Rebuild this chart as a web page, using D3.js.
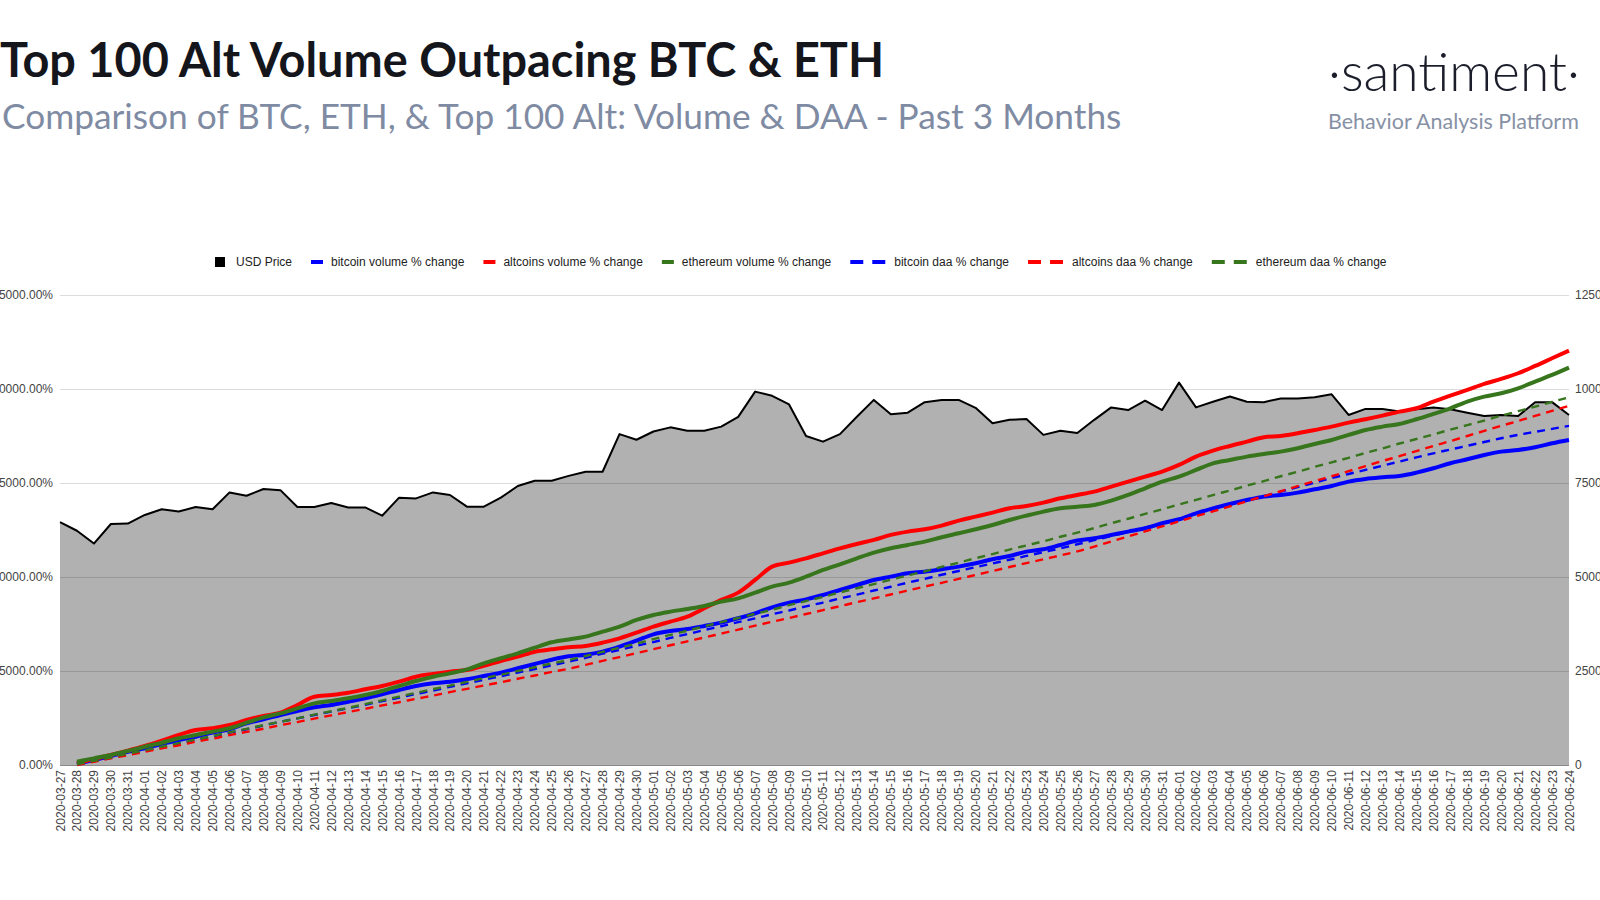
<!DOCTYPE html>
<html>
<head>
<meta charset="utf-8">
<script src="https://cdn.jsdelivr.net/npm/d3@7"></script>
<style>
  html, body { margin: 0; padding: 0; background: #ffffff; overflow: hidden; }
  svg { display: block; }
</style>
</head>
<body>
<svg id="chart" width="1600" height="900"></svg>
<script>
// ---------------- DATA ----------------
const dates = [
"2020-03-27","2020-03-28","2020-03-29","2020-03-30","2020-03-31","2020-04-01","2020-04-02","2020-04-03","2020-04-04","2020-04-05",
"2020-04-06","2020-04-07","2020-04-08","2020-04-09","2020-04-10","2020-04-11","2020-04-12","2020-04-13","2020-04-14","2020-04-15",
"2020-04-16","2020-04-17","2020-04-18","2020-04-19","2020-04-20","2020-04-21","2020-04-22","2020-04-23","2020-04-24","2020-04-25",
"2020-04-26","2020-04-27","2020-04-28","2020-04-29","2020-04-30","2020-05-01","2020-05-02","2020-05-03","2020-05-04","2020-05-05",
"2020-05-06","2020-05-07","2020-05-08","2020-05-09","2020-05-10","2020-05-11","2020-05-12","2020-05-13","2020-05-14","2020-05-15",
"2020-05-16","2020-05-17","2020-05-18","2020-05-19","2020-05-20","2020-05-21","2020-05-22","2020-05-23","2020-05-24","2020-05-25",
"2020-05-26","2020-05-27","2020-05-28","2020-05-29","2020-05-30","2020-05-31","2020-06-01","2020-06-02","2020-06-03","2020-06-04",
"2020-06-05","2020-06-06","2020-06-07","2020-06-08","2020-06-09","2020-06-10","2020-06-11","2020-06-12","2020-06-13","2020-06-14",
"2020-06-15","2020-06-16","2020-06-17","2020-06-18","2020-06-19","2020-06-20","2020-06-21","2020-06-22","2020-06-23","2020-06-24"
];

// USD Price (right axis)
const usdPrice = [
6460,6230,5890,6410,6420,6650,6800,6740,6860,6800,
7250,7160,7340,7310,6860,6860,6970,6850,6850,6630,
7110,7090,7250,7180,6870,6870,7110,7420,7560,7560,
7690,7800,7800,8800,8650,8870,8980,8890,8890,9000,
9260,9930,9820,9590,8750,8600,8800,9260,9710,9330,
9370,9650,9710,9710,9500,9090,9180,9200,8780,8890,
8830,9180,9510,9440,9690,9440,10170,9510,9660,9800,
9660,9650,9750,9750,9780,9860,9310,9470,9470,9400,
9460,9510,9460,9370,9280,9310,9280,9650,9650,9310
];

// bitcoin volume % change
const btcVolume = [
null,300,1330,2400,3540,4430,5590,6650,7530,8600,
9490,11090,12150,13300,14360,15350,15960,16840,17740,18800,
19950,21010,21730,22160,22790,23670,24550,25720,26870,28000,
28900,29300,30150,31480,33070,34760,35640,36180,36970,37860,
39020,40350,41940,43180,44060,45220,46550,47880,49210,50090,
50990,51420,52060,52760,53650,54710,55590,56740,57380,58520,
59700,60290,61180,62070,62950,64280,65350,66940,68270,69430,
70490,71380,71820,72440,73330,74210,75370,76080,76520,76870,
77760,78910,80240,81310,82460,83350,83790,84500,85570,86450
];

// altcoins volume % change
const altVolume = [
null,450,1600,2660,3800,5050,6470,7980,9310,9760,
10640,11970,13040,13920,15960,18170,18620,19230,20140,21010,
22160,23490,24210,24820,25270,26410,27660,28810,30140,30760,
31300,31650,32540,33690,35200,36800,38130,39460,41670,43900,
45840,49220,52760,53820,54970,56300,57630,58790,59860,61190,
62070,62690,63670,65000,66060,67130,68270,68900,69780,70930,
71800,72710,74040,75370,76700,78030,79800,82020,83610,84850,
86000,87160,87510,88220,89110,90000,91060,91950,92920,93980,
94870,96650,98240,99750,101350,102680,104190,106130,108170,110220
];

// ethereum volume % change
const ethVolume = [
null,890,1770,2660,3720,4870,5930,7100,7980,8870,
9760,11260,12680,13740,15070,16400,17020,17740,18620,19680,
21010,22340,23490,24380,25450,27050,28380,29710,31210,32630,
33400,34130,35460,36800,38570,39900,40790,41500,42290,43450,
44330,45840,47430,48500,50090,51870,53380,54970,56480,57630,
58520,59410,60560,61620,62690,63840,65170,66320,67390,68270,
68700,69160,70310,71820,73590,75370,76700,78470,80240,81130,
82020,82730,83350,84230,85390,86450,87780,89110,90000,90710,
91950,93370,94870,96650,97980,98860,100190,101970,103740,105700
];

// bitcoin daa % change
const btcDaa = [
null,100,1000,1900,2900,3800,4800,5700,6700,7600,
8600,9500,10500,11500,12400,13300,14200,15100,16000,17000,
17900,18900,19800,20800,21700,22700,23600,24600,25500,26500,
27500,28500,29600,30600,31700,32700,33800,34800,35900,36900,
38000,39000,40100,41100,42200,43200,44300,45300,46400,47400,
48500,49500,50600,51600,52600,53600,54600,55600,56600,57600,
58700,59800,60900,62000,63100,64300,65500,66700,67900,69100,
70300,71500,72700,73900,75100,76300,77400,78500,79600,80700,
81800,82900,83900,84900,85900,86900,87800,88600,89400,90200
];

// altcoins daa % change
const altDaa = [
null,0,850,1800,2600,3500,4450,5250,6200,7000,
7950,8800,9650,10600,11400,12350,13200,14100,14950,15850,
16700,17600,18450,19400,20250,21150,22000,22950,23800,24750,
25600,26650,27700,28700,29750,30800,31850,32900,33900,34950,
36000,37050,38100,39100,40150,41200,42250,43300,44300,45350,
46400,47450,48450,49500,50550,51600,52650,53700,54700,55750,
56800,58100,59450,60800,62150,63450,64800,66150,67450,68800,
70150,71500,72800,74150,75500,76800,78150,79500,80850,82150,
83500,84850,86150,87500,88850,90200,91500,92850,94200,95500
];

// ethereum daa % change
const ethDaa = [
null,200,1100,2000,3000,3900,4900,5800,6800,7700,
8700,9600,10600,11500,12400,13400,14300,15200,16200,17200,
18200,19200,20200,21100,22100,23100,24000,25000,26000,27000,
27900,29000,30100,31200,32300,33500,34600,35700,36900,38000,
39100,40200,41300,42500,43600,44700,45900,47000,48100,49300,
50400,51500,52700,53800,55000,56100,57300,58400,59500,60700,
61800,63000,64300,65500,66800,68000,69300,70500,71800,73000,
74300,75500,76800,78000,79300,80500,81700,83000,84200,85500,
86700,87900,89200,90400,91600,92900,94100,95300,96600,97800
];

const leftTicks = [0, 25000, 50000, 75000, 100000, 125000];
const rightTicks = [0, 2500, 5000, 7500, 10000, 12500];

const titleText = "Top 100 Alt Volume Outpacing BTC & ETH";
const subtitleText = "Comparison of BTC, ETH, & Top 100 Alt: Volume & DAA - Past 3 Months";
const logoText = "\u00B7santiment\u00B7";
const logoSubText = "Behavior Analysis Platform";

const seriesNames = ["USD Price", "bitcoin volume % change", "altcoins volume % change", "ethereum volume % change",
                     "bitcoin daa % change", "altcoins daa % change", "ethereum daa % change"];

// ---------------- LAYOUT / STYLE ----------------
const svg = d3.select("#chart");
const plot = { left: 60, right: 1569, top: 295, bottom: 765 };
const FONT = "'Liberation Sans', Arial, sans-serif";
const BLUE = "#0000ff", RED = "#ff0000", GREEN = "#38761d";

const lineSeries = [
  { name: seriesNames[1], values: btcVolume, color: BLUE, dashed: false },
  { name: seriesNames[2], values: altVolume, color: RED, dashed: false },
  { name: seriesNames[3], values: ethVolume, color: GREEN, dashed: false },
  { name: seriesNames[4], values: btcDaa, color: BLUE, dashed: true },
  { name: seriesNames[5], values: altDaa, color: RED, dashed: true },
  { name: seriesNames[6], values: ethDaa, color: GREEN, dashed: true }
];

const x = d3.scalePoint().domain(dates).range([plot.left, plot.right]).padding(0);
const yL = d3.scaleLinear().domain([0, 125000]).range([plot.bottom, plot.top]);
const yR = d3.scaleLinear().domain([0, 12500]).range([plot.bottom, plot.top]);

// ---------------- HEADER ----------------
function fitWidth(sel, target) {
  const w = sel.node().getComputedTextLength();
  const fs = parseFloat(sel.attr("font-size"));
  sel.attr("font-size", (fs * target / w).toFixed(2));
}

const title = svg.append("text")
  .attr("x", 0).attr("y", 77)
  .attr("font-family", "Lato, 'Open Sans', sans-serif")
  .attr("font-weight", 700).attr("font-size", 42)
  .attr("fill", "#14161c").text(titleText);
fitWidth(title, 884);

const subtitle = svg.append("text")
  .attr("x", 2).attr("y", 129)
  .attr("font-family", "Lato, 'Open Sans', sans-serif")
  .attr("font-weight", 400).attr("font-size", 32)
  .attr("fill", "#7f8ba3").text(subtitleText);
fitWidth(subtitle, 1120);

const logo = svg.append("text")
  .attr("x", 1328).attr("y", 91)
  .attr("font-family", "Lato, 'Open Sans', sans-serif")
  .attr("font-weight", 300).attr("font-size", 52)
  .attr("fill", "#1b1d2b").text(logoText);
fitWidth(logo, 252);

const logoSub = svg.append("text")
  .attr("x", 1328).attr("y", 129)
  .attr("font-family", "Lato, 'Open Sans', sans-serif")
  .attr("font-weight", 400).attr("font-size", 19)
  .attr("fill", "#8791a5").text(logoSubText);
fitWidth(logoSub, 251);

// ---------------- GRID ----------------
const g = svg.append("g");
g.selectAll("line.grid").data(leftTicks.slice(1)).enter().append("line")
  .attr("class", "grid")
  .attr("x1", plot.left).attr("x2", plot.right)
  .attr("y1", d => Math.round(yL(d)) + 0.5).attr("y2", d => Math.round(yL(d)) + 0.5)
  .attr("stroke", "#dcdcdc").attr("stroke-width", 1);

// ---------------- PRICE AREA ----------------
const priceData = dates.map((d, i) => ({ d, v: usdPrice[i] }));
const area = d3.area().x(p => x(p.d)).y0(yR(0)).y1(p => yR(p.v));
g.append("path").datum(priceData).attr("d", area)
  .attr("fill", "#000000").attr("fill-opacity", 0.305);
const priceLine = d3.line().x(p => x(p.d)).y(p => yR(p.v));
g.append("path").datum(priceData).attr("d", priceLine)
  .attr("fill", "none").attr("stroke", "#000").attr("stroke-width", 2)
  .attr("stroke-linejoin", "round");

// baseline
g.append("line").attr("x1", plot.left).attr("x2", plot.right)
  .attr("y1", plot.bottom + 0.5).attr("y2", plot.bottom + 0.5)
  .attr("stroke", "#8a8a8a").attr("stroke-width", 1);

// ---------------- LINES ----------------
const lineGen = d3.line()
  .defined(p => p.v !== null)
  .x(p => x(p.d)).y(p => yL(p.v))
  .curve(d3.curveMonotoneX);

lineSeries.forEach(s => {
  const data = dates.map((d, i) => ({ d, v: s.values[i] }));
  g.append("path").datum(data).attr("d", lineGen)
    .attr("fill", "none").attr("stroke", s.color)
    .attr("stroke-width", s.dashed ? 2.4 : 4)
    .attr("stroke-dasharray", s.dashed ? "8,6" : null)
    .attr("stroke-linejoin", "round");
});

// ---------------- AXES ----------------
const leftAxis = d3.axisLeft(yL).tickValues(leftTicks).tickSize(0).tickPadding(0)
  .tickFormat(d => d.toFixed(2) + "%");
const la = svg.append("g").attr("transform", `translate(53,0)`).call(leftAxis);
la.select(".domain").remove();
la.selectAll("text").attr("font-family", FONT).attr("font-size", 12).attr("fill", "#444");

const rightAxis = d3.axisRight(yR).tickValues(rightTicks).tickSize(0).tickPadding(0)
  .tickFormat(d3.format("d"));
const ra = svg.append("g").attr("transform", `translate(1575,0)`).call(rightAxis);
ra.select(".domain").remove();
ra.selectAll("text").attr("font-family", FONT).attr("font-size", 12).attr("fill", "#444");

const bottomAxis = d3.axisBottom(x).tickSize(0).tickPadding(0);
const ba = svg.append("g").attr("transform", `translate(0,${plot.bottom})`).call(bottomAxis);
ba.select(".domain").remove();
ba.selectAll("text")
  .attr("font-family", FONT).attr("font-size", 12).attr("fill", "#444")
  .attr("text-anchor", "end")
  .attr("dy", null)
  .attr("dominant-baseline", "central")
  .attr("transform", "translate(0,5) rotate(-90)")
  .attr("y", 0).attr("x", 0);

// ---------------- LEGEND ----------------
const legend = svg.append("g").attr("transform", "translate(0,262)");
const legendItems = [
  { name: seriesNames[0], type: "square", color: "#000" },
  ...lineSeries.map(s => ({ name: s.name, type: s.dashed ? "dash" : "solid", color: s.color }))
];
let cx = 215;
legendItems.forEach(it => {
  const gi = legend.append("g");
  let sw;
  if (it.type === "square") {
    gi.append("rect").attr("x", cx).attr("y", -5).attr("width", 10).attr("height", 10).attr("fill", it.color);
    sw = 10; cx += sw + 11;
  } else if (it.type === "solid") {
    gi.append("line").attr("x1", cx).attr("x2", cx + 12).attr("y1", 0).attr("y2", 0)
      .attr("stroke", it.color).attr("stroke-width", 4);
    sw = 12; cx += sw + 8;
  } else {
    gi.append("line").attr("x1", cx).attr("x2", cx + 13).attr("y1", 0).attr("y2", 0)
      .attr("stroke", it.color).attr("stroke-width", 4);
    gi.append("line").attr("x1", cx + 22).attr("x2", cx + 35).attr("y1", 0).attr("y2", 0)
      .attr("stroke", it.color).attr("stroke-width", 4);
    sw = 35; cx += sw + 9;
  }
  const t = gi.append("text").attr("x", cx).attr("y", 0).attr("dominant-baseline", "central")
    .attr("font-family", FONT).attr("font-size", 12).attr("fill", "#222").text(it.name);
  cx += t.node().getComputedTextLength() + 19;
});
</script>
</body>
</html>
